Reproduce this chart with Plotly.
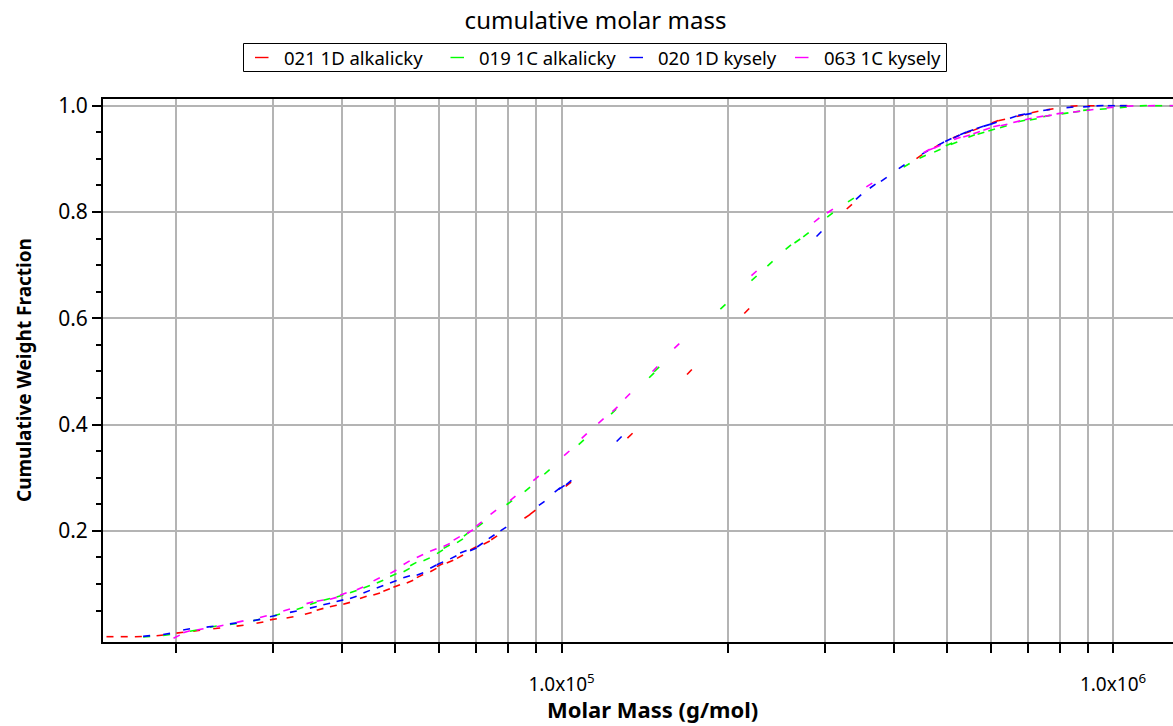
import numpy as np
import plotly.graph_objects as go

# Molar mass (g/mol) and cumulative weight fraction for each sample
mass_021_1d_alk = [15180, 16110, 17090, 18710, 20330, 21800, 23700, 26130, 28390, 30030,
                   32190, 34740, 36490, 38570, 40770, 43710, 46220, 48180, 50250, 53110,
                   55380, 58560, 60200, 62780, 65450, 69200, 73160, 75500, 86720, 88680,
                   102900, 133100, 170600, 216700, 332600, 445500, 480800, 519100, 544900,
                   564200, 611000, 628200, 678100, 721900, 768800, 849800, 912000, 1047000]
frac_021_1d_alk = [0.0010, 0.0010, 0.0010, 0.0035, 0.0086, 0.0123, 0.0167, 0.0217, 0.0274, 0.0337,
                   0.0374, 0.0449, 0.0524, 0.0587, 0.0637, 0.0750, 0.0813, 0.0888, 0.0963, 0.1045,
                   0.1151, 0.1264, 0.1358, 0.1421, 0.1515, 0.1672, 0.1779, 0.1870, 0.2274, 0.2350,
                   0.2877, 0.3792, 0.4990, 0.6138, 0.8100, 0.9041, 0.9248, 0.9417, 0.9498,
                   0.9555, 0.9699, 0.9731, 0.9812, 0.9881, 0.9931, 0.9994, 1.0000, 1.0000]

mass_019_1c_alk = [17690, 19230, 21500, 23370, 25410, 28010, 30440, 33550, 35480, 37520,
                   39650, 41930, 44330, 46870, 49550, 52380, 53860, 56940, 60200, 61910,
                   65450, 67300, 71150, 80420, 86720, 94120, 108600, 124300, 145700, 148800,
                   196200, 223400, 238800, 257800, 267700, 277500, 306800, 334800, 422500,
                   451700, 480300, 504200, 514900, 554200, 576200, 602600, 632600, 682900,
                   716900, 758100, 818300, 859200, 895800, 960300, 1044000, 1135000, 1210000, 1285000]
frac_019_1c_alk = [0.0010, 0.0042, 0.0123, 0.0199, 0.0249, 0.0324, 0.0418, 0.0543, 0.0637, 0.0712,
                   0.0775, 0.0857, 0.0951, 0.1045, 0.1170, 0.1264, 0.1377, 0.1465, 0.1609, 0.1703,
                   0.1816, 0.1942, 0.2111, 0.2532, 0.2782, 0.3109, 0.3667, 0.4244, 0.4927, 0.5040,
                   0.6218, 0.6752, 0.7027, 0.7341, 0.7454, 0.7573, 0.7943, 0.8225, 0.8878,
                   0.9041, 0.9154, 0.9273, 0.9292, 0.9430, 0.9480, 0.9542, 0.9605, 0.9712,
                   0.9743, 0.9806, 0.9856, 0.9887, 0.9919, 0.9938, 0.9969, 1.0000, 1.0000, 1.0000]

mass_020_1d_kys = [17690, 19230, 20900, 23050, 25410, 28010, 30030, 32640, 35480, 37520,
                   39650, 41930, 44330, 46870, 49550, 52380, 55380, 58560, 60200, 63650,
                   66370, 69200, 71150, 74700, 78430, 92070, 98290, 100070, 103060, 127200,
                   293000, 345700, 366600, 384100, 413800, 456200, 487600, 502800, 520600,
                   535300, 550400, 573800, 590000, 606800, 659500, 682900, 702000, 758100,
                   835600, 895800, 947100, 993000, 1044000]
frac_020_1d_kys = [0.0023, 0.0061, 0.0148, 0.0199, 0.0261, 0.0324, 0.0399, 0.0481, 0.0562, 0.0625,
                   0.0687, 0.0750, 0.0857, 0.0951, 0.1045, 0.1139, 0.1189, 0.1327, 0.1390, 0.1503,
                   0.1609, 0.1653, 0.1735, 0.1891, 0.2036, 0.2519, 0.2770, 0.2820, 0.2908, 0.3729,
                   0.7586, 0.8282, 0.8485, 0.8614, 0.8853, 0.9122, 0.9285, 0.9354, 0.9420,
                   0.9480, 0.9527, 0.9593, 0.9630, 0.9668, 0.9785, 0.9831, 0.9844, 0.9919,
                   0.9969, 0.9981, 1.0000, 1.0000, 1.0000]

mass_063_1c_kys = [20050, 20900, 22110, 24030, 26130, 28800, 31740, 34980, 36490, 38570,
                   40210, 43110, 46220, 49550, 52380, 55380, 58560, 61910, 64560, 68250,
                   70890, 75230, 81570, 89910, 102200, 109950, 117900, 125000, 131800, 147700,
                   161800, 223400, 290200, 306800, 361500, 459300, 470400, 480300, 522000,
                   542700, 565900, 590000, 615200, 634300, 668800, 702000, 737200, 763300,
                   801500, 859200, 908400, 987400, 1073000, 1175000, 1285000]
frac_063_1c_kys = [0.0010, 0.0104, 0.0148, 0.0211, 0.0293, 0.0387, 0.0512, 0.0650, 0.0687, 0.0731,
                   0.0813, 0.0919, 0.1089, 0.1233, 0.1402, 0.1528, 0.1641, 0.1735, 0.1860, 0.1986,
                   0.2130, 0.2350, 0.2613, 0.2989, 0.3460, 0.3786, 0.4068, 0.4288, 0.4538, 0.5046,
                   0.5479, 0.6846, 0.7849, 0.8018, 0.8508, 0.9147, 0.9191, 0.9229, 0.9386,
                   0.9430, 0.9492, 0.9561, 0.9618, 0.9637, 0.9699, 0.9749, 0.9793, 0.9812,
                   0.9856, 0.9887, 0.9919, 0.9963, 0.9994, 1.0000, 1.0000]

series_names = ["021 1D alkalicky", "019 1C alkalicky", "020 1D kysely", "063 1C kysely"]
series_colors = ["#ff0000", "#00ff00", "#0000ff", "#ff00ff"]
series_mass = [mass_021_1d_alk, mass_019_1c_alk, mass_020_1d_kys, mass_063_1c_kys]
series_frac = [frac_021_1d_alk, frac_019_1c_alk, frac_020_1d_kys, frac_063_1c_kys]

x_major_vals = [1e5, 1e6]
x_major_text = ["1.0x10<sup>5</sup>", "1.0x10<sup>6</sup>"]
x_minor_vals = [2e4, 3e4, 4e4, 5e4, 6e4, 7e4, 8e4, 9e4,
                2e5, 3e5, 4e5, 5e5, 6e5, 7e5, 8e5, 9e5]
y_tick_vals = [0.2, 0.4, 0.6, 0.8, 1.0]
y_tick_text = ["0.2", "0.4", "0.6", "0.8", "1.0"]
y_minor_vals = [0.05, 0.10, 0.15, 0.25, 0.30, 0.35, 0.45, 0.50, 0.55,
                0.65, 0.70, 0.75, 0.85, 0.90, 0.95]

W, H = 1173, 726
M_L, M_R, M_T, M_B = 103, 0, 99, 84
X_RANGE = [4.1686, 6.1088]
Y_RANGE = [-0.009, 1.0126]
FONT = "Noto Sans, Open Sans, DejaVu Sans, sans-serif"
PLOT_W = W - M_L - M_R
PLOT_H = H - M_T - M_B
GRID = "#b4b4b4"

# pixel scale of the plot area, used to orient each short dash along the curve
px_per_dec = PLOT_W / (X_RANGE[1] - X_RANGE[0])
px_per_unit = PLOT_H / (Y_RANGE[1] - Y_RANGE[0])


def dash_angles(mass, frac):
    lx = np.log10(np.asarray(mass, float)) * px_per_dec
    ly = np.asarray(frac, float) * px_per_unit
    dx = np.gradient(lx)
    dy = np.gradient(ly)
    return list(-np.degrees(np.arctan2(dy, dx)))


def px_to_paper(x, y):
    """Page pixel position -> paper coordinates of the plot area."""
    return (x - M_L) / PLOT_W, (H - M_B - y) / PLOT_H


fig = go.Figure()
for name, color, m, f in zip(series_names, series_colors, series_mass, series_frac):
    fig.add_trace(go.Scatter(
        x=m, y=f, mode="markers", name=name, showlegend=False,
        marker=dict(symbol="line-ew", size=5, angle=dash_angles(m, f),
                    color=color, line=dict(color=color, width=1.6)),
        hoverinfo="x+y+name",
    ))

# framed legend row above the plot: short coloured stroke followed by the sample name
legend_box = (243.5, 43.5, 946.5, 71.5)
legend_key_x = [255, 450.5, 629.5, 795]
legend_row_y = 57.5
shapes = []
annotations = []
bx0, by0 = px_to_paper(legend_box[0], legend_box[3])
bx1, by1 = px_to_paper(legend_box[2], legend_box[1])
shapes.append(dict(type="rect", xref="paper", yref="paper", x0=bx0, y0=by0, x1=bx1, y1=by1,
                   line=dict(color="#000000", width=1), fillcolor="white", layer="above"))
for name, color, kx in zip(series_names, series_colors, legend_key_x):
    kx0, ky = px_to_paper(kx, legend_row_y)
    kx1, _ = px_to_paper(kx + 13.5, legend_row_y)
    shapes.append(dict(type="line", xref="paper", yref="paper", x0=kx0, x1=kx1, y0=ky, y1=ky,
                       line=dict(color=color, width=1.4)))
    tx, _ = px_to_paper(kx + 26.5, legend_row_y)
    annotations.append(dict(text=name, xref="paper", yref="paper", x=tx, y=ky,
                            xanchor="left", yanchor="middle", showarrow=False,
                            font=dict(size=18.5, family=FONT, color="#000000")))

ax_x, ax_y = px_to_paper(652, 709)
annotations.append(dict(text="<b>Molar Mass (g/mol)</b>", xref="paper", yref="paper",
                        x=ax_x, y=ax_y, xanchor="center", yanchor="middle", showarrow=False,
                        font=dict(size=22, family=FONT, color="#000000")))
ay_x, ay_y = px_to_paper(24, 370)
annotations.append(dict(text="<b>Cumulative Weight Fraction</b>", xref="paper", yref="paper",
                        x=ay_x, y=ay_y, textangle=-90, xanchor="center", yanchor="middle",
                        showarrow=False, font=dict(size=19, family=FONT, color="#000000")))

fig.update_layout(
    width=W, height=H,
    margin=dict(l=M_L, r=M_R, t=M_T, b=M_B),
    paper_bgcolor="white", plot_bgcolor="white",
    font=dict(family=FONT, color="#000000"),
    showlegend=False,
    title=dict(text="cumulative molar mass", x=595.5 / W, xref="container", xanchor="center",
               y=1 - 21 / H, yref="container", yanchor="middle",
               font=dict(size=24, family=FONT, color="#000000")),
    xaxis=dict(type="log", range=X_RANGE, tickmode="array", tickvals=x_major_vals,
               ticktext=x_major_text, ticks="outside", ticklen=9, tickwidth=2,
               tickcolor="#000000", showgrid=True, gridcolor=GRID, gridwidth=2,
               showline=True, linecolor="#000000", linewidth=2, mirror=True,
               zeroline=False, ticklabelstandoff=15,
               tickfont=dict(size=19, family=FONT, color="#000000"),
               minor=dict(tickmode="array", tickvals=x_minor_vals, ticks="outside",
                          ticklen=9, tickwidth=2, tickcolor="#000000",
                          showgrid=True, gridcolor=GRID, gridwidth=2)),
    yaxis=dict(range=Y_RANGE, tickmode="array", tickvals=y_tick_vals, ticktext=y_tick_text,
               ticks="outside", ticklen=9, tickwidth=1.5, tickcolor="#000000",
               showgrid=True, gridcolor=GRID, gridwidth=2,
               showline=True, linecolor="#000000", linewidth=2, zeroline=False,
               tickfont=dict(size=21, family=FONT, color="#000000"),
               minor=dict(tickmode="array", tickvals=y_minor_vals, ticks="outside",
                          ticklen=5, tickwidth=1.5, tickcolor="#000000", showgrid=False)),
    shapes=shapes,
    annotations=annotations,
)

fig.write_html("out.html")
